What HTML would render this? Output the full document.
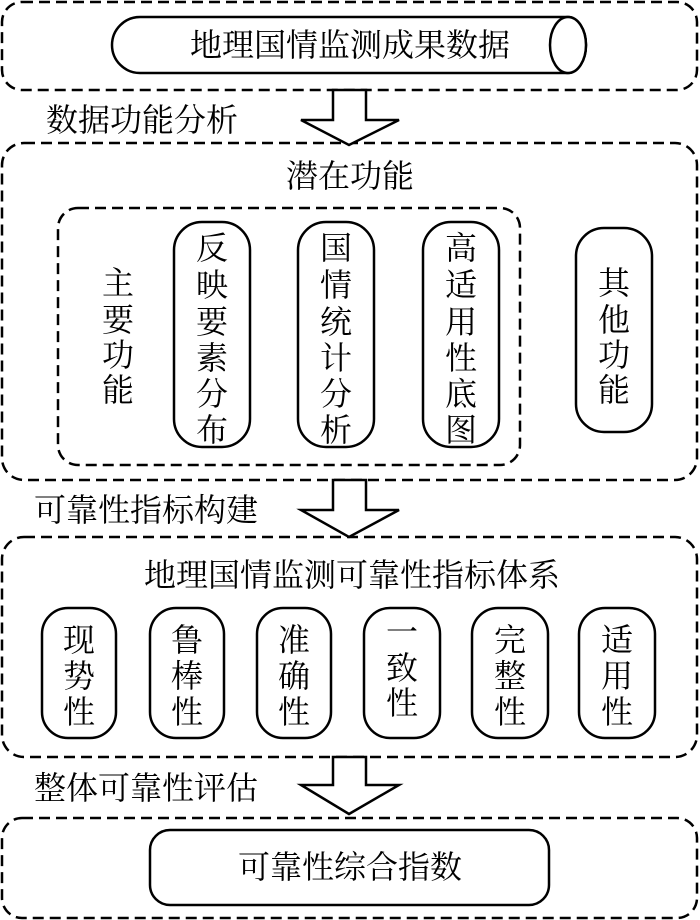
<!DOCTYPE html>
<html><head><meta charset="utf-8"><style>
html,body{margin:0;padding:0;background:#fff;}
svg{display:block;}
text{font-family:"Liberation Serif","Noto Serif CJK SC",serif;font-size:32px;fill:#000;text-anchor:middle;dominant-baseline:central;}
</style></head><body>
<svg width="700" height="920" viewBox="0 0 700 920" xmlns="http://www.w3.org/2000/svg">
<g fill="none" stroke="#000" stroke-width="2.5" stroke-dasharray="11,6">
<rect x="2" y="2" width="695" height="88" rx="20"/>
<rect x="2" y="143" width="695" height="337" rx="22"/>
<rect x="58" y="208" width="462" height="257" rx="20"/>
<rect x="2" y="537" width="695" height="220" rx="22"/>
<rect x="2" y="818" width="695" height="100" rx="20"/>
</g>
<g fill="#fff" stroke="#000" stroke-width="2.5">
<path d="M140,17 H568 A18,28 0 0 1 568,73 H140 A28,28 0 0 1 140,17 Z"/>
<ellipse cx="568" cy="45" rx="18" ry="28"/>
<polygon points="333,90 366,90 366,120 399,120 349,145 301,120 333,120"/>
<polygon points="333,480 366,480 366,510 399,510 349,537 301,510 333,510"/>
<polygon points="333,757 366,757 366,785 399,785 349,814 301,785 333,785"/>
<rect x="174" y="222" width="76" height="225" rx="28"/>
<rect x="298" y="222" width="76" height="225" rx="28"/>
<rect x="423" y="222" width="76" height="225" rx="28"/>
<rect x="576" y="228" width="76" height="204" rx="28"/>
<rect x="42" y="608" width="74" height="130" rx="26"/>
<rect x="150" y="608" width="74" height="130" rx="26"/>
<rect x="257" y="608" width="74" height="130" rx="26"/>
<rect x="364" y="608" width="76" height="130" rx="26"/>
<rect x="472" y="608" width="76" height="130" rx="26"/>
<rect x="579" y="608" width="76" height="130" rx="26"/>
<rect x="150" y="830" width="399" height="75" rx="20"/>
</g>
<text x="350" y="45">地理国情监测成果数据</text>
<text x="142" y="120">数据功能分析</text>
<text x="350" y="176">潜在功能</text>
<g>
<text x="118" y="283">主</text><text x="118" y="320">要</text><text x="118" y="355">功</text><text x="118" y="390">能</text>
<text x="212" y="248">反</text><text x="212" y="285">映</text><text x="212" y="322">要</text><text x="212" y="358">素</text><text x="212" y="394">分</text><text x="212" y="430">布</text>
<text x="336" y="248">国</text><text x="336" y="285">情</text><text x="336" y="322">统</text><text x="336" y="358">计</text><text x="336" y="394">分</text><text x="336" y="430">析</text>
<text x="461" y="248">高</text><text x="461" y="285">适</text><text x="461" y="322">用</text><text x="461" y="358">性</text><text x="461" y="394">底</text><text x="461" y="430">图</text>
<text x="614" y="283">其</text><text x="614" y="320">他</text><text x="614" y="355">功</text><text x="614" y="390">能</text>
</g>
<text x="146" y="510">可靠性指标构建</text>
<text x="352" y="575">地理国情监测可靠性指标体系</text>
<g>
<text x="79" y="640">现</text><text x="79" y="676">势</text><text x="79" y="712">性</text>
<text x="187" y="640">鲁</text><text x="187" y="676">棒</text><text x="187" y="712">性</text>
<text x="294" y="640">准</text><text x="294" y="676">确</text><text x="294" y="712">性</text>
<text x="402" y="632">一</text><text x="402" y="668">致</text><text x="402" y="703">性</text>
<text x="510" y="640">完</text><text x="510" y="676">整</text><text x="510" y="712">性</text>
<text x="617" y="640">适</text><text x="617" y="676">用</text><text x="617" y="712">性</text>
</g>
<text x="146" y="788">整体可靠性评估</text>
<text x="350" y="867">可靠性综合指数</text>
</svg>
</body></html>
